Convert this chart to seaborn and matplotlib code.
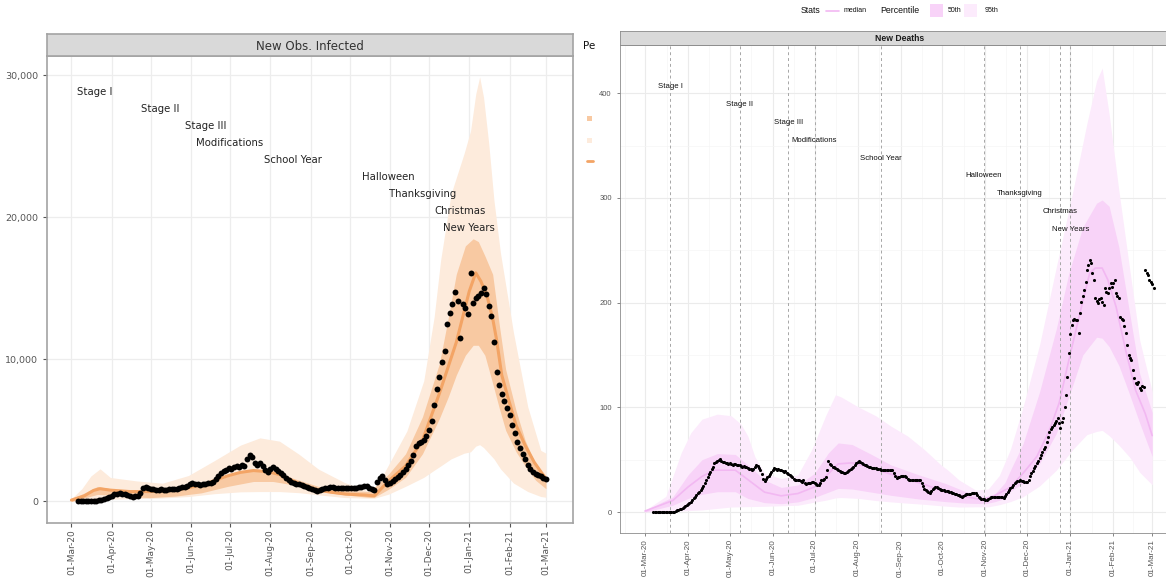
import numpy as np
import pandas as pd
import seaborn as sns
import matplotlib.pyplot as plt
import matplotlib.dates as mdates
from matplotlib.patches import Rectangle
from matplotlib.lines import Line2D

# ---- data: days counted from 01-Mar-2020 ----
start = pd.Timestamp('2020-03-01')

event_names = ['Stage I', 'Stage II', 'Stage III', 'Modifications', 'School Year',
               'Halloween', 'Thanksgiving', 'Christmas', 'New Years']
event_days = [18, 68, 103, 122, 170, 244, 270, 299, 306]
event_y_inf = [28850, 27650, 26450, 25250, 24050, 22850, 21650, 20450, 19250]
event_y_dth = [406, 389, 372, 355, 338, 321, 304, 287, 270]

# New Obs. Infected - observed, every second day from day 5
inf_obs_days = list(range(5, 366, 2))
inf_obs = [0, 0, 0, 10, 10, 20, 30, 60, 90, 140,
           200, 280, 340, 420, 500, 560, 580, 560, 520, 480,
           380, 350, 360, 420, 600, 980, 1020, 920, 850, 900,
           840, 820, 860, 800, 820, 850, 880, 870, 900, 960,
           1000, 1050, 1100, 1200, 1290, 1250, 1200, 1180, 1250, 1230,
           1280, 1300, 1400, 1600, 1830, 2000, 2150, 2200, 2350, 2300,
           2420, 2500, 2450, 2550, 2480, 3000, 3250, 3150, 2700, 2600,
           2700, 2500, 2200, 2060, 2300, 2400, 2300, 2150, 2000, 1850,
           1650, 1500, 1380, 1300, 1250, 1200, 1130, 1080, 1000, 950,
           880, 800, 760, 800, 870, 920, 980, 1000, 1000, 980,
           960, 950, 950, 960, 940, 920, 950, 980, 1000, 1050,
           1100, 1080, 980, 900, 780, 1400, 1650, 1800, 1500, 1250,
           1300, 1450, 1600, 1700, 1900, 2100, 2280, 2600, 2880, 3300,
           3900, 4100, 4200, 4300, 4600, 5010, 5700, 6800, 7900, 8790,
           9800, 10600, 12500, 13300, 13880, 14750, 14100, 11510, 13880, 13600,
           13170, 16070, 14000, 14300, 14500, 14700, 15000, 14600, 13800, 13050,
           11200, 9150, 8200, 7600, 7100, 6600, 6080, 5370, 4800, 4180,
           3750, 3360, 3000, 2600, 2300, 2100, 1950, 1850, 1800, 1650, 1600]

inf_med_days = [0, 10, 17, 22, 30, 45, 60, 80, 100, 120,
                130, 140, 151, 160, 167, 178, 190, 200, 211, 225,
                233, 244, 257, 270, 283, 296, 306, 311, 315, 320,
                324, 327, 331, 336, 342, 349, 356, 365]
inf_med = [100, 400, 780, 900, 800, 700, 700, 800, 1150, 1800,
           2050, 2180, 2100, 1900, 1600, 1150, 800, 650, 520, 460,
           400, 1450, 2500, 4300, 7600, 11200, 14800, 16100, 15500, 14350,
           12900, 11400, 8900, 7250, 5370, 3950, 2760, 1590]

inf_p50_days = [0, 10, 20, 30, 40, 60, 80, 100, 120, 140,
                155, 170, 190, 210, 230, 233, 244, 257, 270, 283,
                290, 296, 303, 309, 313, 318, 324, 329, 334, 342,
                349, 357, 365]
inf_p50_lo = [0, 250, 500, 450, 380, 270, 380, 610, 1060, 1410,
              1410, 1180, 710, 470, 280, 300, 870, 1700, 3360, 5840,
              7400, 8900, 10300, 11000, 11000, 10300, 8320, 6600, 5010, 3500,
              2500, 1500, 900]
inf_p50_hi = [200, 600, 1060, 900, 730, 690, 850, 1060, 1760, 2290,
              2170, 1650, 1060, 780, 700, 1000, 1940, 3360, 5960, 9700,
              13000, 16000, 18000, 18500, 18300, 17300, 16000, 12500, 9300, 6400,
              4300, 2600, 1800]

inf_p95_days = [0, 8, 15, 22, 30, 50, 70, 90, 110, 130,
                145, 160, 175, 190, 210, 230, 233, 244, 258, 271,
                279, 284, 292, 302, 307, 311, 314, 317, 321, 325,
                330, 340, 351, 361, 365]
inf_p95_lo = [0, 50, 100, 150, 160, 200, 250, 350, 550, 680,
              700, 700, 620, 470, 280, 230, 230, 520, 1110, 1700,
              2200, 2500, 3000, 3400, 3500, 3900, 4000, 3800, 3400, 3000,
              2300, 1300, 700, 350, 300]
inf_p95_hi = [200, 900, 1800, 2300, 1690, 1450, 1290, 1830, 2880, 3970,
              4480, 4250, 3330, 2280, 1340, 700, 760, 2600, 4960, 8500,
              13000, 17000, 21660, 24500, 26100, 28700, 29900, 28460, 25200, 21200,
              17500, 11900, 6670, 3600, 3400]

# New Deaths - observed, daily from day 6
dth_obs_days = list(range(6, 367))
dth_obs = [0, 0, 0, 0, 0, 0, 0, 0, 0, 0,
           0, 0, 0, 0, 0, 0.5, 1, 1.5, 2, 2.5,
           3, 4, 5, 6, 7, 8, 9, 10, 11.5, 13,
           14.5, 16, 18, 19.5, 21, 22.6, 25, 28, 30.6, 33,
           36, 38.7, 41, 43.5, 46.8, 48, 49, 50, 50.6, 49,
           48, 47.4, 47, 46.5, 46, 46.5, 46, 45, 46, 45.8,
           45, 44.5, 45, 44, 43.5, 44, 43.5, 43, 42, 41.5,
           41, 40.3, 41, 43, 45.2, 44, 42, 40.3, 36, 31.3,
           30, 32, 33, 34.5, 36, 38, 40, 41.9, 41, 40,
           41, 40.3, 40, 39, 38.7, 39, 37, 36, 35.5, 34,
           33, 31.3, 31, 30.5, 30.6, 31, 30, 29, 30.6, 28,
           27, 28, 27.4, 28, 28.5, 29, 27.5, 26.5, 26, 25.8,
           28, 30.6, 31, 32, 33.9, 40, 48.4, 46, 44.5, 43.5,
           43.5, 42, 41, 40.3, 39, 38.5, 38, 37.7, 37.7, 38.5,
           39.5, 40.5, 41, 41.9, 43, 45, 46.5, 47.5, 48.4, 47.5,
           46.5, 45.5, 45.2, 44.5, 44, 43.5, 43, 42.5, 42, 41.9,
           41.9, 41.5, 41, 41, 40.5, 40.5, 40.3, 40.3, 40, 40,
           39.7, 39.7, 39.7, 37, 34, 32.3, 33, 33.5, 34, 34.5,
           34.5, 34.5, 33, 32, 31, 30.6, 30.6, 31, 30.6, 30.6,
           31, 30.6, 30.6, 28, 25, 22, 21, 20, 19, 18.4,
           20, 22, 23, 24.2, 23.5, 22.5, 22, 21.5, 21, 21,
           20.5, 20.5, 20.3, 19.5, 19, 18.5, 18, 17.7, 17, 16.5,
           16, 15, 14.5, 15, 16, 17, 17.5, 17.7, 17.5, 18,
           18.4, 18.4, 18.4, 16, 14, 13, 12.9, 12.5, 12, 11.5,
           11.3, 12, 13, 14, 14.5, 14.5, 14.5, 14.5, 14.5, 14.5,
           14.5, 14.5, 13, 15, 17, 19, 21, 22.6, 24, 26,
           27.4, 28.5, 29.5, 30, 30.6, 30, 29.5, 29, 29, 29,
           31, 34, 37, 39.5, 42, 44, 46.5, 49, 52, 54.4,
           57, 60, 62.4, 67, 72, 76, 79, 81, 83, 84.7,
           87, 89.5, 85, 80, 86, 89.5, 100, 111.7, 129.3, 151.6,
           170, 178.6, 183.4, 184, 183, 183, 170.7, 189.8, 200.9, 206,
           212, 220, 231, 236, 241, 238, 228, 221.6, 204, 202,
           200, 203, 204, 201, 197.7, 213.6, 210, 209, 214, 218.4,
           215, 219, 221.6, 209, 206, 204, 186.5, 184, 183, 178,
           170.7, 159.5, 150, 146.8, 145, 135.6, 128, 123, 122, 124.4,
           118, 116.5, 120, 119.7, 231, 228, 226, 222, 220, 218, 213.6]

dth_med_days = [0, 20, 31, 41, 50, 65, 74, 86, 98, 110,
                122, 130, 139, 149, 168, 182, 202, 216, 231, 242,
                250, 259, 263, 272, 282, 291, 298, 305, 313, 320,
                324, 329, 333, 339, 346, 353, 360, 365]
dth_med = [1, 11, 24, 34, 40, 40, 31, 19, 15.5, 17.7,
           24, 34, 46, 47, 40, 34, 26, 19, 14.5, 12,
           14.5, 21, 23.5, 37, 53, 78, 104, 145, 190, 228,
           233, 233, 222, 196, 154, 116.5, 94, 73]

dth_p50_days = [0, 20, 31, 41, 52, 65, 74, 86, 98, 110,
                122, 132, 139, 149, 163, 177, 197, 216, 231, 245,
                252, 259, 263, 272, 284, 296, 305, 315, 325, 329,
                334, 341, 348, 356, 365]
dth_p50_lo = [0, 6.5, 13, 17, 19.4, 19.4, 13, 9, 8, 9.7,
              14, 19, 22.6, 22, 19, 16, 12.5, 10, 8.5, 8,
              10, 13, 20, 27.4, 46.5, 75, 110, 150, 167, 166,
              158, 140, 115, 85, 53]
dth_p50_hi = [1.6, 14.5, 35.5, 50, 55.8, 55, 45, 30.6, 23.5, 25.8,
              37, 56.5, 66, 64.5, 55, 45, 35.5, 27.4, 19.4, 14.5,
              17.7, 28, 40, 65, 115, 175, 228, 272, 295, 298,
              292, 253, 196, 132, 95]

dth_p95_days = [0, 15, 26, 33, 41, 52, 62, 69, 74, 79,
                86, 98, 110, 120, 130, 137, 141, 154, 166, 177,
                189, 201, 213, 218, 226, 238, 247, 255, 263, 272,
                284, 296, 308, 318, 325, 329, 334, 341, 349, 356,
                365]
dth_p95_lo = [0, 0.5, 1, 1.5, 2, 3.5, 4.8, 5, 5.2, 5.3,
              5.5, 6, 6.5, 9, 11.3, 13.5, 13.9, 13, 11, 9.7,
              8.5, 7.4, 6, 5.5, 4.8, 5, 5, 7, 10, 14.6,
              25, 40, 60, 74, 77, 78, 73, 64, 52, 38,
              26]
dth_p95_hi = [1.6, 15, 56.5, 75.8, 88.7, 93.5, 92, 84, 72.6, 53,
              37, 32, 35.5, 59.7, 92, 112, 110, 100, 92, 82,
              72.6, 59.7, 45, 40, 30.6, 21, 22, 35, 60, 100,
              160, 234, 307, 371, 412, 424, 380, 307, 230, 164,
              115]


def to_dates(days):
    return start + pd.to_timedelta(np.asarray(days, dtype=float), unit='D')


W, H = 1166, 579


def box(x0, y0, x1, y1):
    # pixel box -> figure coords
    return [x0 / W, 1 - y1 / H, (x1 - x0) / W, (y1 - y0) / H]


sns.set_theme(style='white')
plt.rcParams['font.family'] = ['DejaVu Sans']

fig = plt.figure(figsize=(W / 100, H / 100), dpi=100)
fig.patch.set_facecolor('white')

months = pd.date_range('2020-03-01', '2021-03-01', freq='MS')
fmt = mdates.DateFormatter('%d-%b-%y')

# ================= left panel: New Obs. Infected =================
axL = fig.add_axes(box(47, 56, 573, 523))
axL.set_zorder(0)
axL.set_axisbelow(True)
axL.fill_between(to_dates(inf_p95_days), inf_p95_lo, inf_p95_hi, color='#FDEBDC', lw=0)
axL.fill_between(to_dates(inf_p50_days), inf_p50_lo, inf_p50_hi, color='#F8C9A2', lw=0)
sns.lineplot(x=to_dates(inf_med_days), y=inf_med, ax=axL, color='#F3A465', lw=2.2)
sns.scatterplot(x=to_dates(inf_obs_days), y=inf_obs, ax=axL, color='black', s=18,
                linewidth=0, zorder=4)
for name, d, y in zip(event_names, event_days, event_y_inf):
    axL.text(to_dates([d])[0], y, name, ha='center', va='center', fontsize=7.3,
             color='#222222')

axL.set_xlim(start - pd.Timedelta(days=18.8), start + pd.Timedelta(days=385.8))
axL.set_ylim(-1514, 31370)
axL.set_xticks(months)
axL.xaxis.set_major_formatter(fmt)
axL.set_yticks([0, 10000, 20000, 30000])
axL.set_yticklabels(['0', '10,000', '20,000', '30,000'])
axL.grid(True, color='#EDEDED', lw=0.9)
axL.tick_params(axis='x', labelrotation=90, labelsize=6.5, colors='#555555', length=3,
                width=0.8, direction='out', bottom=True, pad=1.5)
axL.tick_params(axis='y', labelsize=6.8, colors='#555555', length=3, width=0.8,
                direction='out', left=True)
axL.set_xlabel('')
axL.set_ylabel('')
for sp in axL.spines.values():
    sp.set_color('#A3A3A3')
    sp.set_linewidth(1.2)

sL = fig.add_axes(box(47, 34, 573, 56))
sL.set_facecolor('#D9D9D9')
sL.set_xticks([])
sL.set_yticks([])
for sp in sL.spines.values():
    sp.set_color('#A3A3A3')
    sp.set_linewidth(1.2)
sL.text(0.5, 0.45, 'New Obs. Infected', ha='center', va='center', fontsize=8.5,
        color='#333333', transform=sL.transAxes)

# clipped legend of the left picture
fig.text(583 / W, 1 - 46 / H, 'Percentile', fontsize=7.5, va='center', ha='left',
         color='#111111', zorder=1)
fig.add_artist(Rectangle((587 / W, 1 - 121 / H), 5 / W, 5 / H, transform=fig.transFigure,
                         color='#F8C9A2', lw=0, zorder=1))
fig.add_artist(Rectangle((587 / W, 1 - 143 / H), 5 / W, 5 / H, transform=fig.transFigure,
                         color='#FDEBDC', lw=0, zorder=1))
fig.add_artist(Line2D([587 / W, 593 / W], [1 - 161 / H, 1 - 161 / H],
                      transform=fig.transFigure, color='#F3A465', lw=2, zorder=1))
fig.add_artist(Rectangle((596 / W, 0), 1 - 596 / W, 1, transform=fig.transFigure,
                         color='white', lw=0, zorder=1.5))

# ================= right panel: New Deaths =================
plt.rcParams['font.family'] = ['Liberation Sans', 'DejaVu Sans']
axR = fig.add_axes(box(620, 45, 1180, 533))
axR.set_zorder(2)
axR.set_axisbelow(True)
axR.fill_between(to_dates(dth_p95_days), dth_p95_lo, dth_p95_hi, color='#FCEBFC', lw=0)
axR.fill_between(to_dates(dth_p50_days), dth_p50_lo, dth_p50_hi, color='#F8D3F8', lw=0)
sns.lineplot(x=to_dates(dth_med_days), y=dth_med, ax=axR, color='#F2B8F2', lw=1.2)
for d in event_days:
    axR.axvline(to_dates([d])[0], color='#A6A6A6', lw=0.7, ls=(0, (3, 3)), zorder=3)
sns.scatterplot(x=to_dates(dth_obs_days), y=dth_obs, ax=axR, color='black', s=5,
                linewidth=0, zorder=4)
for name, d, y in zip(event_names, event_days, event_y_dth):
    axR.text(to_dates([d])[0], y, name, ha='center', va='center', fontsize=5.6,
             color='#111111', family=['Liberation Sans'])

axR.set_xlim(start - pd.Timedelta(days=18), start + pd.Timedelta(days=385))
axR.set_ylim(-20, 446)
axR.set_xticks(months)
mids = months[:-1] + (months[1:] - months[:-1]) / 2
minor_x = [start - pd.Timedelta(days=14.5)] + list(mids) + [months[-1] + pd.Timedelta(days=15.5)]
axR.set_xticks(minor_x, minor=True)
axR.xaxis.set_major_formatter(fmt)
axR.set_yticks([0, 100, 200, 300, 400])
axR.set_yticks([50, 150, 250, 350], minor=True)
axR.grid(True, which='major', color='#EBEBEB', lw=0.8)
axR.grid(True, which='minor', color='#F5F5F5', lw=0.5)
axR.tick_params(axis='x', which='major', labelrotation=90, labelsize=5.8, colors='#555555',
                length=2.5, width=0.5, bottom=True, pad=2)
axR.tick_params(axis='y', which='major', labelsize=5.5, colors='#555555', length=2.5,
                width=0.5, left=True)
axR.tick_params(which='minor', length=0)
for lab in axR.get_xticklabels() + axR.get_yticklabels():
    lab.set_family('Liberation Sans')
axR.set_xlabel('')
axR.set_ylabel('')
for sp in axR.spines.values():
    sp.set_color('#8C8C8C')
    sp.set_linewidth(0.6)

sR = fig.add_axes(box(620, 31, 1180, 45))
sR.set_zorder(2)
sR.set_facecolor('#D9D9D9')
sR.set_xticks([])
sR.set_yticks([])
for sp in sR.spines.values():
    sp.set_color('#8C8C8C')
    sp.set_linewidth(0.6)
sR.text(0.5, 0.48, 'New Deaths', ha='center', va='center', fontsize=6.2,
        fontweight='bold', color='#1A1A1A', transform=sR.transAxes,
        family=['Liberation Sans'])

# top legend of the right picture
ly = 1 - 10.5 / H
fig.text(801 / W, ly, 'Stats', fontsize=6.3, va='center', ha='left', zorder=3,
         family=['Liberation Sans'], color='#111111')
fig.add_artist(Line2D([826 / W, 839 / W], [ly, ly], transform=fig.transFigure,
                      color='#F2B8F2', lw=1.2, zorder=3))
fig.text(844 / W, ly, 'median', fontsize=5, va='center', ha='left', zorder=3,
         family=['Liberation Sans'], color='#111111')
fig.text(880 / W, ly, 'Percentile', fontsize=6.3, va='center', ha='left', zorder=3,
         family=['Liberation Sans'], color='#111111')
fig.add_artist(Rectangle((930 / W, 1 - 17 / H), 13 / W, 13 / H, transform=fig.transFigure,
                         color='#F8D3F8', lw=0, zorder=3))
fig.text(948 / W, ly, '50th', fontsize=5, va='center', ha='left', zorder=3,
         family=['Liberation Sans'], color='#111111')
fig.add_artist(Rectangle((964 / W, 1 - 17 / H), 13 / W, 13 / H, transform=fig.transFigure,
                         color='#FCEBFC', lw=0, zorder=3))
fig.text(985 / W, ly, '95th', fontsize=5, va='center', ha='left', zorder=3,
         family=['Liberation Sans'], color='#111111')

fig.savefig('out.png', dpi=100)
